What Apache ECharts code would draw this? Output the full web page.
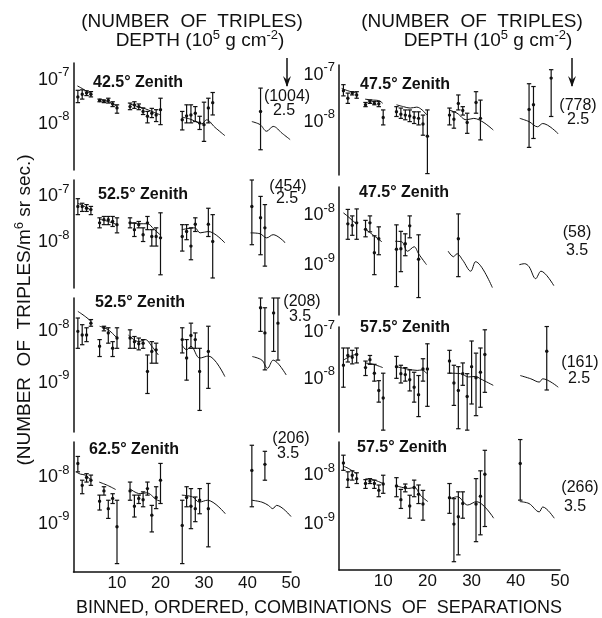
<!DOCTYPE html>
<html><head><meta charset="utf-8">
<script src="https://cdn.jsdelivr.net/npm/echarts@6/dist/echarts.min.js"></script>
<style>html,body{margin:0;padding:0;background:#fff}#c{width:602px;height:618px}</style>
</head><body><div id="c"></div>
<script>
// ---- DATA (values as log10 exponents: point [bin, value, low, high]) ----
const L1_points = [[1,-7.39,-7.52,-7.24],[2,-7.33,-7.44,-7.23],[3,-7.30,-7.36,-7.25],[4,-7.33,-7.39,-7.27],
 [6,-7.47,-7.50,-7.44],[7,-7.49,-7.52,-7.46],[8,-7.47,-7.53,-7.42],[9,-7.55,-7.61,-7.50],[10,-7.64,-7.76,-7.57],
 [13,-7.61,-7.68,-7.53],[14,-7.57,-7.65,-7.50],[15,-7.61,-7.68,-7.55],[16,-7.72,-7.79,-7.64],[17,-7.83,-7.98,-7.72],
 [18,-7.76,-7.86,-7.65],[19,-7.80,-7.95,-7.68],[20,-7.68,-8.02,-7.42],
 [25,-7.91,-8.14,-7.72],[26,-7.82,-7.98,-7.57],[27,-7.80,-7.98,-7.57],[28,-7.76,-7.95,-7.61],[29,-7.98,-8.13,-7.83],
 [30,-8.02,-8.40,-7.51],[31,-7.64,-7.98,-7.42],[32,-7.52,-7.80,-7.29],[43,-7.72,-8.59,-7.19]];
const L1_curve = [[[0.9,-7.14],[2,-7.2],[3,-7.26],[4,-7.31]],[[6,-7.44],[8,-7.5],[10,-7.6]],
 [[13,-7.55],[15,-7.62],[16.5,-7.66],[18,-7.72],[20,-7.8]],
 [[25,-7.85],[27,-7.9],[28.7,-7.98],[29.5,-8.0],[30.6,-7.91],[32.5,-8.08],[34.8,-8.27]],
 [[41,-7.95],[42.9,-8.02],[44.4,-8.17],[45.9,-8.06],[48,-8.22],[49.8,-8.36]]];

const L2_points = [[1,-7.22,-7.40,-7.05],[2,-7.22,-7.33,-7.15],[3,-7.26,-7.33,-7.18],[4,-7.29,-7.40,-7.22],
 [6,-7.58,-7.69,-7.47],[7,-7.51,-7.62,-7.44],[8,-7.51,-7.62,-7.44],[9,-7.55,-7.66,-7.44],[10,-7.62,-7.80,-7.47],
 [13,-7.58,-7.69,-7.47],[14,-7.73,-7.88,-7.58],[15,-7.62,-7.69,-7.55],[16,-7.84,-7.99,-7.69],[17,-7.58,-7.73,-7.44],
 [18,-7.88,-8.09,-7.73],[19,-7.88,-8.09,-7.69],[20,-7.91,-8.72,-7.36],
 [25,-7.88,-8.20,-7.62],[26,-7.77,-7.95,-7.62],[27,-8.09,-8.39,-7.69],[28,-7.61,-7.77,-7.47],[31,-7.61,-7.88,-7.26],
 [32,-7.99,-8.79,-7.40],[41,-7.22,-8.06,-6.64],[43,-7.47,-8.28,-7.00],[44,-7.69,-8.53,-7.18]];
const L2_curve = [[[1,-7.15],[2.5,-7.22],[4,-7.3]],[[6,-7.5],[8,-7.55],[10,-7.62]],
 [[13,-7.58],[15,-7.6],[17,-7.6],[18.5,-7.72],[20,-7.85]],
 [[24.9,-7.73],[27.9,-7.69],[29.1,-7.8],[31,-7.77],[34.8,-8.02]],
 [[40.7,-7.8],[42.9,-7.82],[44.4,-7.91],[45.9,-7.84],[48.7,-8.02]]];

const L3_points = [[1,-8.00,-8.33,-7.74],[2,-8.07,-8.26,-7.87],[3,-8.07,-8.20,-7.93],[4,-7.84,-7.90,-7.77],
 [6,-8.29,-8.49,-8.16],[7,-7.93,-7.99,-7.90],[8,-8.03,-8.23,-7.93],[9,-8.33,-8.49,-8.20],[10,-8.13,-8.33,-7.93],
 [13,-8.13,-8.33,-7.97],[14,-8.20,-8.33,-8.10],[15,-8.24,-8.36,-8.13],[16,-8.23,-8.33,-8.16],[17,-8.78,-9.21,-8.46],
 [18,-8.39,-8.62,-8.20],[19,-8.36,-8.62,-8.23],
 [25,-8.16,-8.42,-7.93],[26,-8.52,-8.95,-8.16],[27,-8.08,-8.33,-7.84],[28,-8.16,-8.33,-8.03],[29,-8.78,-9.54,-8.33],
 [31,-8.39,-9.11,-7.90],[43,-7.54,-8.00,-7.35],[44,-8.03,-8.75,-7.54],[46,-7.64,-8.39,-7.35],[47,-7.84,-8.56,-7.35]];
const L3_curve = [[[1,-7.61],[2.7,-7.71],[4,-7.8]],[[6,-7.9],[8,-7.97],[10,-8.13]],
 [[12.6,-8.07],[15,-8.2],[16.5,-8.16],[18,-8.29],[19.5,-8.46]],
 [[24.9,-8.26],[26,-8.36],[27,-8.29],[29,-8.52],[31,-8.48],[34.8,-8.88]],
 [[41.1,-8.49],[43.3,-8.56],[44.6,-8.72],[45.9,-8.56],[48.9,-8.85]]];

const L4_points = [[1,-7.71,-7.89,-7.56],[2,-8.18,-8.36,-8.07],[3,-8.01,-8.11,-7.93],[4,-8.07,-8.18,-7.96],
 [6,-8.52,-8.71,-8.39],[7,-8.30,-8.39,-8.21],[8,-8.68,-8.89,-8.50],[9,-8.46,-8.57,-8.36],[10,-9.07,-9.86,-8.50],
 [13,-8.30,-8.50,-8.11],[14,-8.63,-8.86,-8.39],[15,-8.46,-8.57,-8.39],[16,-8.49,-8.64,-8.32],[17,-8.25,-8.39,-8.11],
 [18,-8.82,-9.18,-8.61],[19,-8.44,-8.68,-8.21],[20,-8.07,-8.57,-7.71],
 [25,-9.04,-9.86,-8.50],[26,-8.44,-8.64,-8.21],[27,-8.63,-9.11,-8.25],[28,-8.68,-8.96,-8.43],[29,-8.50,-8.79,-8.25],
 [31,-8.68,-9.50,-8.14],[41,-7.86,-8.64,-7.32],[44,-7.73,-8.07,-7.45]];
const L4_curve = [[[0.6,-7.89],[1.6,-7.94],[2.7,-7.96],[3.9,-8.06]],[[5.9,-8.11],[7.8,-8.18],[9.7,-8.27]],
 [[12.9,-8.25],[15.3,-8.36],[16.8,-8.34],[19.1,-8.49],[20,-8.52]],
 [[24.9,-8.39],[27.4,-8.43],[28.9,-8.54],[30.8,-8.5],[34.9,-8.79]],
 [[41,-8.5],[43.3,-8.54],[44.8,-8.61],[45.8,-8.68],[46.7,-8.61],[50,-8.85]]];

const R1_points = [[1,-7.34,-7.45,-7.21],[2,-7.50,-7.61,-7.39],[3,-7.39,-7.43,-7.36],[4,-7.43,-7.50,-7.36],
 [6,-7.64,-7.68,-7.59],[7,-7.57,-7.61,-7.54],[8,-7.61,-7.64,-7.57],[9,-7.62,-7.68,-7.57],[10,-7.91,-8.07,-7.75],
 [13,-7.79,-7.89,-7.68],[14,-7.84,-7.93,-7.71],[15,-7.86,-7.96,-7.75],[16,-7.88,-8.00,-7.75],[17,-7.91,-8.04,-7.79],
 [18,-7.93,-8.07,-7.79],[19,-8.05,-8.29,-7.86],[20,-8.31,-9.11,-7.75],
 [25,-7.86,-8.07,-7.71],[26,-7.95,-8.14,-7.79],[27,-7.61,-7.75,-7.43],[28,-7.76,-7.86,-7.68],[29,-8.02,-8.25,-7.82],
 [31,-7.59,-7.82,-7.36],[32,-7.93,-8.39,-7.54],[43,-7.74,-8.55,-7.19],[44,-7.64,-8.36,-7.25],[48,-7.07,-7.89,-6.89]];
const R1_curve = [[[0.6,-7.29],[2,-7.34],[4,-7.39]],[[5.9,-7.52],[7.8,-7.54],[9,-7.55],[9.9,-7.61]],
 [[13,-7.64],[14.6,-7.68],[16.1,-7.71],[17.6,-7.69],[18.8,-7.75],[19.9,-7.86]],
 [[24.9,-7.75],[26.7,-7.82],[28.8,-7.96],[30.5,-7.93],[34.9,-8.18]],
 [[40.9,-7.93],[43,-8.0],[44.9,-8.11],[46.1,-8.04],[49.6,-8.26]]];

const R2_points = [[2,-8.17,-8.48,-7.88],[3,-8.20,-8.40,-8.01],[4,-8.15,-8.48,-7.87],
 [6,-8.28,-8.43,-8.10],[7,-8.15,-8.33,-8.01],[8,-8.75,-9.19,-8.41],[9,-8.47,-8.79,-8.23],
 [13,-8.68,-9.43,-8.19],[14,-8.67,-9.13,-8.32],[15,-8.57,-8.81,-8.37],[16,-8.21,-8.45,-8.01],[18,-8.88,-9.65,-8.39],
 [27,-8.47,-9.23,-7.97]];
const R2_curve = [[[1,-7.95],[2,-8.02],[3,-8.1],[4,-8.17]],[[5.9,-8.27],[7.8,-8.4],[9.7,-8.53]],
 [[12.7,-8.52],[14.2,-8.53],[15.5,-8.72],[17,-8.63],[18,-8.77],[19.8,-8.99]],
 [[24.7,-8.72],[25.9,-8.83],[26.7,-8.77],[28,-8.9],[29.8,-9.12],[30.9,-8.93],[34.7,-9.45]],
 [[40.8,-8.99],[42,-8.97],[43,-9.03],[44.5,-9.27],[45.7,-9.12],[48.6,-9.41]]];

const R3_points = [[1,-7.71,-8.18,-7.34],[2,-7.50,-7.64,-7.34],[3,-7.54,-7.68,-7.39],[4,-7.48,-7.66,-7.34],
 [6,-7.76,-7.93,-7.62],[7,-7.59,-7.69,-7.50],[8,-7.88,-8.05,-7.69],[9,-8.25,-8.50,-8.04],[10,-8.41,-9.10,-7.88],
 [13,-7.74,-7.99,-7.52],[14,-7.89,-8.09,-7.71],[15,-7.91,-8.05,-7.76],[16,-8.02,-8.26,-7.81],[17,-8.18,-8.50,-7.86],
 [18,-8.34,-8.81,-7.93],[19,-7.79,-8.05,-7.57],[20,-7.79,-8.59,-7.25],
 [25,-7.62,-7.88,-7.39],[26,-8.09,-8.57,-7.71],[27,-8.25,-9.07,-7.74],[28,-7.89,-8.14,-7.66],[29,-8.38,-9.10,-7.89],
 [30,-7.74,-8.54,-7.19],[31,-7.98,-8.79,-7.45],[32,-7.86,-8.61,-7.34],[33,-7.48,-8.29,-6.95],[47,-7.41,-8.24,-6.88]];
const R3_curve = [[[1,-7.6],[2.5,-7.52],[4,-7.47]],[[5.9,-7.66],[7.8,-7.69],[9.9,-7.76]],
 [[13,-7.74],[15.4,-7.79],[17.7,-7.82],[18.8,-7.81],[19.9,-7.89]],
 [[24.9,-7.88],[27.5,-7.89],[29.3,-7.96],[30.9,-7.95],[32,-8.0],[34.9,-8.14]],
 [[41,-7.93],[43.4,-8.0],[45.3,-8.07],[46.1,-8.0],[49.6,-8.18]]];

const R4_points = [[1,-7.75,-7.90,-7.59],[2,-8.09,-8.25,-7.93],[3,-8.00,-8.10,-7.91],[4,-8.07,-8.17,-7.95],
 [6,-8.17,-8.27,-8.09],[7,-8.12,-8.17,-8.07],[8,-8.17,-8.27,-8.10],[9,-8.31,-8.44,-8.20],[10,-8.18,-8.37,-8.00],
 [13,-8.22,-8.44,-8.05],[14,-8.50,-8.68,-8.29],[15,-8.25,-8.34,-8.18],[16,-8.63,-8.88,-8.41],[17,-8.25,-8.44,-8.10],
 [18,-8.39,-8.58,-8.20],[19,-8.59,-8.92,-8.31],
 [25,-8.46,-8.78,-8.17],[26,-9.00,-9.77,-8.48],[27,-8.85,-9.63,-8.34],[28,-8.58,-8.88,-8.34],
 [31,-8.59,-9.36,-8.07],[32,-8.43,-9.22,-7.91],[33,-7.98,-9.05,-7.49],[41,-7.76,-8.51,-7.27]];
const R4_curve = [[[1.1,-7.82],[2.1,-7.86],[4,-7.97]],[[6,-8.07],[8,-8.1],[10,-8.17]],
 [[13.1,-8.22],[15.8,-8.27],[17.1,-8.25],[18.4,-8.41],[20.1,-8.54]],
 [[25.1,-8.48],[26.8,-8.44],[29.1,-8.61],[31.1,-8.54],[35,-8.88]],
 [[40.9,-8.54],[43,-8.58],[45.3,-8.75],[46.1,-8.65],[48.7,-8.88]]];

const zenithLabels = ['42.5° Zenith','52.5° Zenith','52.5° Zenith','62.5° Zenith','47.5° Zenith','47.5° Zenith','57.5° Zenith','57.5° Zenith'];
const countLabels = ['(1004)','(454)','(208)','(206)','(778)','(58)','(161)','(266)'];
const depthLabels = ['2.5','2.5','3.5','3.5','2.5','3.5','2.5','3.5'];
const yExpMin = [-9.05,-9.01,-9.96,-10.04,-9.14,-10.0,-9.14,-9.94];
const yExpMax = [-6.62,-6.64,-7.35,-7.25,-6.79,-7.43,-6.89,-7.32];
const yLabelExps = [[-7,-8],[-7,-8],[-8,-9],[-8,-9],[-7,-8],[-8,-9],[-7,-8],[-8,-9]];
const xMin = 0, xMax = 50, xStep = 10;

const allPoints = [L1_points,L2_points,L3_points,L4_points,R1_points,R2_points,R3_points,R4_points];
const allCurves = [L1_curve,L2_curve,L3_curve,L4_curve,R1_curve,R2_curve,R3_curve,R4_curve];

// ---- LAYOUT ----
const grids = [
 {left:73.5, top:63, width:217.5, height:107},
 {left:73.5, top:180, width:217.5, height:108},
 {left:73.5, top:298, width:217.5, height:134},
 {left:73.5, top:442, width:217.5, height:130},
 {left:339, top:65, width:221, height:110},
 {left:339, top:187, width:221, height:128},
 {left:339, top:327, width:221, height:105},
 {left:339, top:442, width:221, height:128}
];
const zenithPos = [[138,83],[143,195],[140,303],[134,450],[405,85],[404,193],[405,328],[402,448]];
const countPos = [[287,97],[288,187],[302,302],[291,439],[578,106],[577,233],[580,363],[580,488]];
const depthPos = [[284,111],[287,199],[300,317],[288,454],[578,120],[577,251],[579,379],[575,507]];
const bottomPanels = [3,7];
const INK = '#111';
const FONT = 'Liberation Sans, Arial, sans-serif';
const p10 = e => Math.pow(10, e);

function renderBar(params, api) {
  const x = api.value(0);
  const c = api.coord([x, api.value(1)]);
  const lo = api.coord([x, api.value(2)]);
  const hi = api.coord([x, api.value(3)]);
  const st = {stroke: INK, lineWidth: 1.2};
  return {type: 'group', children: [
    {type: 'line', shape: {x1: c[0], y1: hi[1], x2: c[0], y2: lo[1]}, style: st},
    {type: 'line', shape: {x1: c[0]-2.2, y1: hi[1], x2: c[0]+2.2, y2: hi[1]}, style: st},
    {type: 'line', shape: {x1: c[0]-2.2, y1: lo[1], x2: c[0]+2.2, y2: lo[1]}, style: st},
    {type: 'circle', shape: {cx: c[0], cy: c[1], r: 1.7}, style: {fill: INK}}
  ]};
}

const xAxes = [], yAxes = [], series = [];
grids.forEach((g, i) => {
  const isBottom = bottomPanels.includes(i);
  xAxes.push({
    gridIndex: i, type: 'value', min: xMin, max: xMax, interval: xStep,
    show: true,
    axisLine: {show: isBottom, onZero: false, lineStyle: {color: INK, width: 1.5}},
    axisTick: {show: false}, splitLine: {show: false},
    axisLabel: {show: isBottom, margin: 3, color: INK, fontSize: 17, fontFamily: FONT,
      formatter: v => v === 0 ? '' : String(v)}
  });
  const shown = yLabelExps[i];
  yAxes.push({
    gridIndex: i, type: 'log', logBase: 10, min: p10(yExpMin[i]), max: p10(yExpMax[i]),
    axisLine: {show: true, onZero: false, lineStyle: {color: INK, width: 1.5}},
    axisTick: {show: false}, splitLine: {show: false}, minorTick: {show: false},
    axisLabel: {margin: 4, color: INK,
      formatter: v => { const e = Math.round(Math.log10(v) * 100) / 100; return shown.includes(e) ? '{b|10}{s|' + e + '}' : ''; },
      rich: {b: {fontSize: 18, fontFamily: FONT, color: INK},
             s: {fontSize: 13, fontFamily: FONT, color: INK, padding: [0, 0, 14, 0]}}}
  });
  series.push({
    type: 'custom', xAxisIndex: i, yAxisIndex: i, renderItem: renderBar, clip: false, silent: true,
    data: allPoints[i].map(p => [p[0], p10(p[1]), p10(p[2]), p10(p[3])])
  });
  allCurves[i].forEach(seg => {
    series.push({
      type: 'line', xAxisIndex: i, yAxisIndex: i, symbol: 'none', smooth: 0.35, silent: true,
      lineStyle: {color: INK, width: 1},
      data: seg.map(p => [p[0], p10(p[1])])
    });
  });
});

const graphics = [];
grids.forEach((g, i) => {
  graphics.push({type: 'text', x: zenithPos[i][0], y: zenithPos[i][1],
    style: {text: zenithLabels[i], font: 'bold 16px ' + FONT, fill: INK, align: 'center', verticalAlign: 'middle'}});
  graphics.push({type: 'text', x: countPos[i][0], y: countPos[i][1],
    style: {text: countLabels[i], font: '16px ' + FONT, fill: INK, align: 'center', verticalAlign: 'middle'}});
  graphics.push({type: 'text', x: depthPos[i][0], y: depthPos[i][1],
    style: {text: depthLabels[i], font: '16px ' + FONT, fill: INK, align: 'center', verticalAlign: 'middle'}});
});
const supRich = {sup: {fontSize: 13, fontFamily: FONT, fill: INK, padding: [0, 0, 12, 0]}};
[[192, 471]].forEach(() => {});
[192, 472].forEach(cx => {
  graphics.push({type: 'text', x: cx, y: 22,
    style: {text: '(NUMBER  OF  TRIPLES)', font: '19px ' + FONT, fill: INK, align: 'center', verticalAlign: 'middle'}});
});
[200, 488].forEach(cx => {
  graphics.push({type: 'text', x: cx, y: 41,
    style: {text: 'DEPTH (10{sup|5} g cm{sup|-2})', font: '19px ' + FONT, fill: INK, align: 'center', verticalAlign: 'middle', rich: supRich}});
});
[287, 572].forEach(ax => {
  graphics.push({type: 'line', shape: {x1: ax, y1: 58, x2: ax, y2: 86}, style: {stroke: INK, lineWidth: 1.5}});
  graphics.push({type: 'polygon', shape: {points: [[ax - 4, 76], [ax, 87], [ax + 4, 76], [ax, 80]]}, style: {fill: INK}});
});
graphics.push({type: 'text', x: 319, y: 608,
  style: {text: 'BINNED, ORDERED, COMBINATIONS  OF  SEPARATIONS', font: '18px ' + FONT, fill: INK, align: 'center', verticalAlign: 'middle'}});
graphics.push({type: 'text', x: 25, y: 310, rotation: Math.PI / 2,
  style: {text: '(NUMBER  OF  TRIPLES/m{sup|6} sr sec.)', font: '19px ' + FONT, fill: INK, align: 'center', verticalAlign: 'middle', rich: supRich}});

const chart = echarts.init(document.getElementById('c'), null, {renderer: 'canvas'});
chart.setOption({
  backgroundColor: '#fff', animation: false,
  grid: grids, xAxis: xAxes, yAxis: yAxes, series: series, graphic: graphics
});
</script></body></html>
